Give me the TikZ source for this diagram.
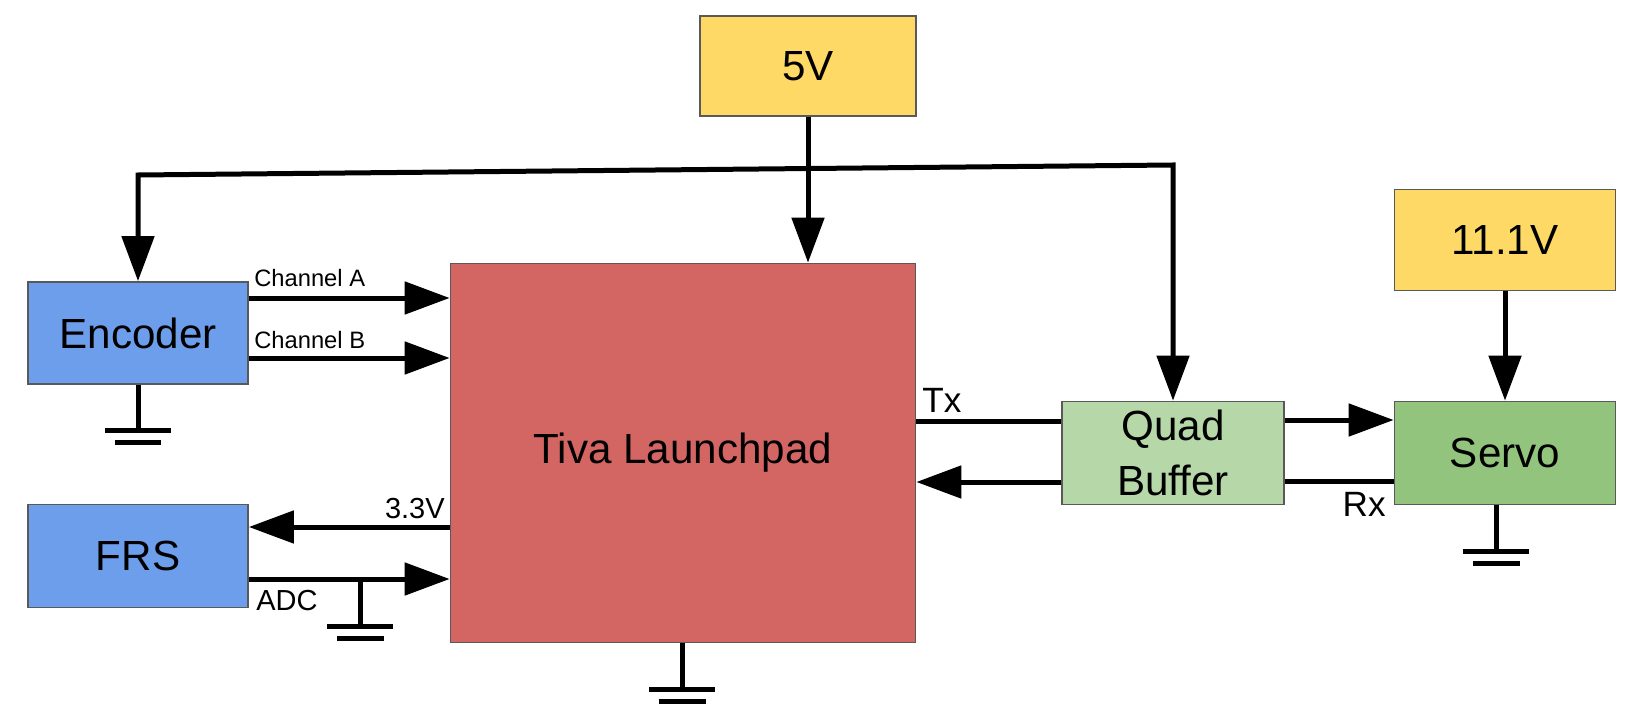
\documentclass[tikz,border=0pt]{standalone}
\usepackage{fontspec}
\setmainfont{Liberation Sans}
\usepackage{tikz}
\usetikzlibrary{positioning, arrows.meta, calc}
\definecolor{pwr-yellow}{HTML}{FFD966}
\definecolor{dev-blue}{HTML}{6D9EEB}
\definecolor{mcu-red}{RGB}{211,101,99}
\definecolor{buf-green}{HTML}{B6D7A8}
\definecolor{srv-green}{HTML}{93C47D}
\definecolor{edge-gray}{HTML}{595959}
\newcommand{\groundsym}[1]{%
  \draw[wire] ([xshift=-0.66cm]#1) -- ([xshift=0.66cm]#1)
    ([xshift=-0.47cm,yshift=-0.24cm]#1) -- ([xshift=0.47cm,yshift=-0.24cm]#1);}

\begin{document}
\begin{tikzpicture}[x=0.02cm, y=-0.02cm,
  block/.style={draw=edge-gray, line width=1pt, inner sep=0pt, align=center,
    minimum width=4.4cm, minimum height=2.04cm, font=\fontsize{24}{31}\selectfont},
  wire/.style={line width=0.1cm},
  sig/.style={wire, -{Triangle[length=0.9cm, width=0.64cm]}},
  both/.style={wire, {Triangle[length=0.9cm, width=0.64cm]}-{Triangle[length=0.9cm, width=0.64cm]}},
  lbl/.style={inner sep=0pt, anchor=base west, font=\fontsize{13.5}{16}\selectfont},
  biglbl/.style={lbl, font=\fontsize{20}{24}\selectfont}]
\useasboundingbox (0,0) rectangle (1629,726);

\node[block, fill=pwr-yellow, minimum width=4.32cm, minimum height=2cm] (supply5) at (808,66) {5V};
\node[block, fill=pwr-yellow, minimum width=4.42cm, minimum height=2.02cm] (supply11) at (1505,240) {11.1V};
\node[block, fill=dev-blue] (encoder) at (138,333) {Encoder};
\node[block, fill=dev-blue, minimum height=2.06cm] (frs) at (138,556) {FRS};
\node[block, fill=mcu-red, minimum width=9.3cm, minimum height=7.58cm] (tiva) at (683,453) {Tiva Launchpad};
\node[block, fill=buf-green, minimum width=4.44cm, minimum height=2.06cm] (buffer) at (1173,453) {Quad\\Buffer};
\node[block, fill=srv-green, minimum width=4.42cm, minimum height=2.06cm] (servo) at (1505,453) {Servo};

% rows of the signal lines
\coordinate (busL) at (138,175);
\coordinate (busR) at (1172,165);
\coordinate (chA) at (0,298);
\coordinate (chB) at (0,358);
\coordinate (v33) at (0,527);
\coordinate (adc) at (360,579);
\coordinate (tx) at (0,421);
\coordinate (rx) at (0,482);

% 5V supply
\draw[sig] (supply5.south) -- (supply5.south |- tiva.north);
\draw[both] (encoder.north) -- (busL) -- (busR -| buffer.north) -- (buffer.north);
\draw[sig] (supply11.south) -- (servo.north);

% encoder and FRS
\draw[sig] (encoder.east |- chA) -- (tiva.west |- chA);
\draw[sig] (encoder.east |- chB) -- (tiva.west |- chB);
\draw[sig] (tiva.west |- v33) -- (frs.east |- v33);
\draw[sig] (frs.east |- adc) -- (tiva.west |- adc);

% serial link
\draw[wire] (tiva.east |- tx) -- (buffer.west |- tx);
\draw[sig] (buffer.west |- rx) -- (tiva.east |- rx);
\draw[sig] (buffer.east |- 0,420) -- (servo.west |- 0,420);
\draw[wire] (servo.west |- 0,481) -- (buffer.east |- 0,481);

% grounds
\coordinate (gEnc) at (138,430);
\coordinate (gFrs) at (360,626);
\coordinate (gTiva) at (682,689);
\coordinate (gServo) at (1496,551);
\draw[wire] (encoder.south) -- (gEnc);
\draw[wire] (adc) -- (gFrs);
\draw[wire] (tiva.south -| gTiva) -- (gTiva);
\draw[wire] (servo.south -| gServo) -- (gServo);
\groundsym{gEnc}
\groundsym{gFrs}
\groundsym{gTiva}
\groundsym{gServo}

% labels
\node[lbl] (labA) at (254,286) {Channel A};
\node[lbl] (labB) at (254,348) {Channel B};
\node[lbl, anchor=base east, font=\fontsize{16.5}{20}\selectfont] (lab33) at (445,518) {3.3V};
\node[lbl, font=\fontsize{16.5}{20}\selectfont] (labAdc) at (256,610) {ADC};
\node[biglbl] (labTx) at (922,412) {Tx};
\node[biglbl, anchor=base east] (labRx) at (1386,516) {Rx};
\end{tikzpicture}
\end{document}
